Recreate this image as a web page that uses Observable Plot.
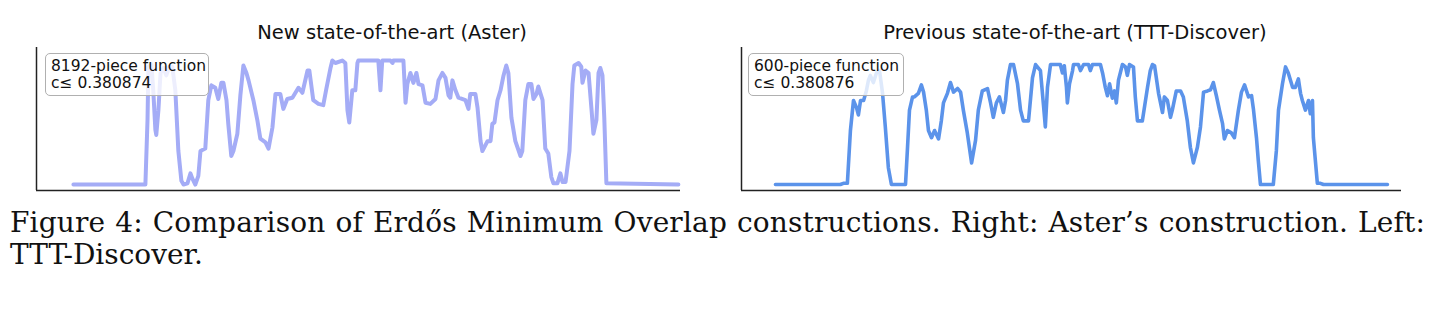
<!DOCTYPE html>
<html><head><meta charset="utf-8">
<script src="https://cdn.jsdelivr.net/npm/d3@7"></script>
<script src="https://cdn.jsdelivr.net/npm/@observablehq/plot@0.6"></script>
<style>
html,body{margin:0;padding:0;background:#fff}
body{width:1441px;height:320px;overflow:hidden;position:relative;font-family:"DejaVu Sans",sans-serif}
.panel{position:absolute;top:0}
.title{position:absolute;top:22px;font-size:19.5px;line-height:22px;color:#111;white-space:nowrap;transform:translateX(-50%)}
.legend{position:absolute;top:53px;height:43px;border:1px solid #b0b0b0;border-radius:5px;background:rgba(255,255,255,0.8);font-size:15.5px;line-height:16.5px;padding:4px 5px;box-sizing:border-box;color:#111;white-space:nowrap}
.cap{position:absolute;left:10px;font-family:"DejaVu Serif",serif;font-size:28px;line-height:32px;color:#111;white-space:nowrap}
</style></head><body>
<div id="left" class="panel" style="left:0"></div>
<div id="right" class="panel" style="left:720px"></div>
<div class="title" style="left:392px">New state-of-the-art (Aster)</div>
<div class="title" style="left:1075px">Previous state-of-the-art (TTT-Discover)</div>
<div class="legend" style="left:45px;width:164px">8192-piece function<br>c≤ 0.380874</div>
<div class="legend" style="left:748px;width:156px">600-piece function<br>c≤ 0.380876</div>
<div id="cap1" class="cap" style="top:207px">Figure 4: Comparison of Erdős Minimum Overlap constructions. Right: Aster’s construction. Left:</div>
<div id="cap2" class="cap" style="top:239px">TTT-Discover.</div>
<script>
// Aster: 8192-piece step function (x in [0,2], value in [0,1])
const asterX = [0,0.238,0.245,0.248,0.258,0.264,0.271,0.274,0.281,0.288,
0.298,0.307,0.317,0.327,0.337,0.347,0.357,0.364,0.377,0.387,
0.393,0.403,0.413,0.420,0.436,0.446,0.456,0.469,0.479,0.489,
0.496,0.506,0.512,0.522,0.529,0.542,0.552,0.562,0.572,0.579,
0.595,0.608,0.618,0.635,0.645,0.658,0.668,0.684,0.694,0.707,
0.724,0.734,0.744,0.757,0.774,0.780,0.793,0.810,0.826,0.836,
0.850,0.856,0.866,0.889,0.899,0.906,0.912,0.922,0.932,0.939,
0.942,1.008,1.015,1.021,1.048,1.055,1.058,1.091,1.098,1.104,
1.114,1.124,1.134,1.141,1.154,1.164,1.180,1.197,1.207,1.220,
1.230,1.240,1.246,1.253,1.263,1.273,1.296,1.306,1.312,1.329,
1.336,1.346,1.352,1.369,1.379,1.385,1.392,1.402,1.412,1.422,
1.431,1.438,1.448,1.461,1.478,1.484,1.494,1.504,1.514,1.521,
1.531,1.537,1.551,1.560,1.570,1.580,1.587,1.600,1.610,1.617,
1.627,1.640,1.650,1.656,1.670,1.679,1.683,1.693,1.703,1.713,
1.719,1.729,1.736,1.742,1.749,1.755,1.762,2.0];
const asterY = [0,0,0.52,0.95,0.97,0.76,0.44,0.40,0.60,0.90,
0.94,0.88,0.95,0.95,0.76,0.27,0.03,0,0.01,0.09,
0.05,0,0.07,0.27,0.29,0.68,0.80,0.78,0.69,0.82,
0.82,0.68,0.49,0.23,0.27,0.41,0.72,0.96,0.90,0.84,
0.68,0.52,0.37,0.34,0.29,0.46,0.73,0.73,0.61,0.69,
0.70,0.74,0.78,0.74,0.92,0.92,0.68,0.65,0.64,0.77,
0.94,1.0,0.98,1.0,0.98,0.60,0.50,0.76,0.76,0.98,
1.0,1.0,0.76,1.0,1.0,0.98,1.0,1.0,0.66,0.81,
0.90,0.82,0.90,0.81,0.80,0.66,0.65,0.69,0.84,0.90,
0.86,0.72,0.70,0.84,0.76,0.70,0.68,0.61,0.73,0.73,
0.62,0.35,0.27,0.35,0.35,0.49,0.50,0.68,0.76,0.88,
0.96,0.90,0.54,0.35,0.23,0.27,0.68,0.81,0.81,0.69,
0.73,0.79,0.68,0.29,0.25,0.06,0.01,0.01,0.09,0.02,
0.02,0.27,0.81,0.96,0.98,0.95,0.82,0.92,0.90,0.60,
0.41,0.52,0.90,0.94,0.88,0.54,0.01,0];

// TTT-Discover: 600-piece step function
const tttX = [0,0.212,0.222,0.235,0.245,0.255,0.265,0.271,0.278,0.288,
0.297,0.304,0.310,0.320,0.330,0.340,0.350,0.359,0.369,0.379,
0.425,0.431,0.438,0.448,0.454,0.467,0.477,0.484,0.493,0.500,
0.510,0.520,0.533,0.542,0.549,0.562,0.572,0.582,0.595,0.605,
0.614,0.627,0.641,0.654,0.663,0.676,0.693,0.703,0.712,0.722,
0.732,0.745,0.752,0.758,0.768,0.778,0.791,0.801,0.810,0.827,
0.840,0.850,0.866,0.876,0.882,0.889,0.899,0.931,0.938,0.944,
0.951,0.954,0.961,0.971,0.974,0.990,0.997,1.007,1.023,1.029,
1.036,1.062,1.069,1.078,1.085,1.092,1.101,1.108,1.114,1.121,
1.134,1.144,1.150,1.157,1.170,1.176,1.183,1.199,1.216,1.225,
1.232,1.239,1.252,1.265,1.271,1.281,1.291,1.297,1.310,1.324,
1.333,1.346,1.356,1.366,1.379,1.389,1.399,1.412,1.422,1.431,
1.441,1.451,1.461,1.467,1.477,1.490,1.500,1.513,1.523,1.533,
1.546,1.556,1.562,1.572,1.578,1.585,1.627,1.637,1.644,1.657,
1.667,1.676,1.690,1.699,1.709,1.716,1.722,1.732,1.742,1.748,
1.755,1.758,1.771,1.781,1.791,2.0];
const tttY = [0,0,0.01,0.01,0.45,0.70,0.64,0.58,0.70,0.70,
0.78,0.87,0.91,0.85,0.93,0.95,0.76,0.48,0.14,0,
0,0.28,0.62,0.73,0.73,0.76,0.83,0.77,0.62,0.45,
0.39,0.45,0.38,0.53,0.68,0.76,0.85,0.77,0.80,0.77,
0.62,0.43,0.18,0.37,0.62,0.78,0.80,0.68,0.56,0.68,
0.73,0.60,0.70,0.87,1.0,1.0,0.84,0.62,0.53,0.53,
0.89,1.0,0.95,0.66,0.48,0.81,1.0,1.0,0.93,0.99,
0.81,0.68,0.84,0.95,1.0,1.0,0.95,1.0,1.0,0.95,
1.0,1.0,0.93,0.81,0.74,0.84,0.72,0.78,0.68,0.87,
1.0,0.98,0.91,1.0,0.98,0.73,0.53,0.53,0.81,0.95,
1.0,0.99,0.76,0.60,0.73,0.70,0.56,0.62,0.78,0.78,
0.73,0.53,0.31,0.18,0.31,0.48,0.77,0.78,0.79,0.85,
0.74,0.62,0.51,0.38,0.45,0.43,0.39,0.62,0.77,0.83,
0.73,0.74,0.63,0.39,0.20,0,0,0.28,0.62,0.84,
0.98,0.93,0.81,0.81,0.88,0.76,0.70,0.62,0.70,0.59,
0.70,0.39,0.01,0.01,0,0];

const aster = asterX.map((x, i) => ({x, c: asterY[i]}));
const ttt = tttX.map((x, i) => ({x, c: tttY[i]}));

function panel(data, opts) {
  const xd = opts.xDomain, yd = opts.yDomain;
  return Plot.plot({
    width: opts.width, height: 200,
    marginLeft: opts.ml, marginRight: opts.mr, marginTop: 47, marginBottom: 10,
    style: {background: "transparent"},
    x: {domain: xd, axis: null},
    y: {domain: yd, axis: null},
    marks: [
      Plot.line(data, {x: "x", y: "c", stroke: opts.color, strokeWidth: opts.sw, strokeLinejoin: "round", strokeLinecap: "round"}),
      Plot.ruleX([xd[0]], {stroke: "#222", strokeWidth: 1.5}),
      Plot.ruleY([yd[0]], {stroke: "#222", strokeWidth: 1.5})
    ]
  });
}

document.getElementById("left").append(panel(aster, {
  width: 720, ml: 36, mr: 40, xDomain: [-0.122, 2.007], yDomain: [-0.048, 1.105], color: "#a4acf6", sw: 4
}));
document.getElementById("right").append(panel(ttt, {
  width: 721, ml: 21, mr: 40, xDomain: [-0.111, 2.046], yDomain: [-0.05, 1.142], color: "#5b93ea", sw: 3.6
}));

// justify first caption line to the full text width (split between letters and words)
const c1 = document.getElementById("cap1");
const w = c1.getBoundingClientRect().width;
const txt = c1.textContent;
const gaps = (txt.match(/ /g) || []).length;
const extra = 1415 - w;
if (extra >= 0) {
  c1.style.letterSpacing = (extra * 0.6 / txt.length) + "px";
  c1.style.wordSpacing = (extra * 0.4 / gaps) + "px";
} else {
  c1.style.letterSpacing = (extra / txt.length) + "px";
}
</script>
</body></html>
